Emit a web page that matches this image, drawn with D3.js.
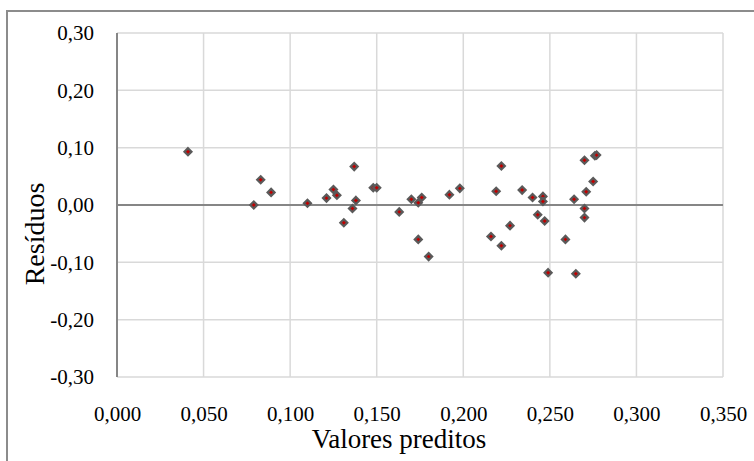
<!DOCTYPE html>
<html>
<head>
<meta charset="utf-8">
<script src="https://cdn.jsdelivr.net/npm/d3@7"></script>
<style>
  body { margin: 0; background: #fff; }
</style>
</head>
<body>
<div id="chart"></div>
<script>
// predicted values (x) and residuals (y)
var predicted = [0.041, 0.079, 0.083, 0.089, 0.110, 0.121, 0.125, 0.127, 0.131, 0.137, 0.136,
  0.138, 0.148, 0.150, 0.163, 0.170, 0.174, 0.176, 0.174, 0.180, 0.192, 0.198, 0.216,
  0.219, 0.222, 0.222, 0.227, 0.234, 0.240, 0.246, 0.246, 0.243, 0.247, 0.249, 0.259,
  0.264, 0.265, 0.270, 0.271, 0.270, 0.270, 0.275, 0.276, 0.277];
var residuals = [0.093, 0.000, 0.044, 0.022, 0.003, 0.012, 0.027, 0.017, -0.031, 0.067, -0.006,
  0.008, 0.030, 0.030, -0.012, 0.010, 0.004, 0.013, -0.060, -0.090, 0.018, 0.029, -0.055,
  0.024, 0.068, -0.071, -0.036, 0.026, 0.013, 0.015, 0.006, -0.017, -0.028, -0.118, -0.060,
  0.010, -0.120, 0.078, 0.023, -0.006, -0.022, 0.041, 0.086, 0.087];

var xTicks = [0, 0.05, 0.10, 0.15, 0.20, 0.25, 0.30, 0.35];
var yTicks = [-0.30, -0.20, -0.10, 0, 0.10, 0.20, 0.30];

var data = predicted.map(function(d, i) { return {x: d, y: residuals[i]}; });

var width = 754, height = 461;
var plot = {left: 117, right: 723, top: 33, bottom: 377};
var serif = "'Liberation Serif', 'Times New Roman', serif";

// comma decimals and a plain hyphen for negatives, like the original
var ptBr = d3.formatLocale({decimal: ",", thousands: ".", grouping: [3], currency: ["", ""], minus: "-"});

var svg = d3.select("#chart")
  .append("svg")
    .attr("width", width)
    .attr("height", height);

// outer chart border (runs off the right and bottom edges)
svg.append("rect")
  .attr("x", 7)
  .attr("y", 11)
  .attr("width", 800)
  .attr("height", 500)
  .attr("fill", "none")
  .attr("stroke", "#8c8c8c")
  .attr("stroke-width", 2);

var x = d3.scaleLinear()
  .domain([0, 0.35])
  .range([plot.left, plot.right]);

var y = d3.scaleLinear()
  .domain([-0.30, 0.30])
  .range([plot.bottom, plot.top]);

// gridlines
svg.append("g")
  .selectAll("line")
  .data(xTicks.slice(1))
  .enter()
  .append("line")
    .attr("x1", function(d) { return x(d); })
    .attr("x2", function(d) { return x(d); })
    .attr("y1", y(0.30))
    .attr("y2", y(-0.30))
    .attr("stroke", "#d9d9d9")
    .attr("stroke-width", 1.5);

svg.append("g")
  .selectAll("line")
  .data(yTicks.filter(function(d) { return d !== 0; }))
  .enter()
  .append("line")
    .attr("x1", x(0))
    .attr("x2", x(0.35))
    .attr("y1", function(d) { return y(d); })
    .attr("y2", function(d) { return y(d); })
    .attr("stroke", "#d9d9d9")
    .attr("stroke-width", 1.5);

// zero line and left axis line
svg.append("line")
  .attr("x1", x(0)).attr("x2", x(0.35))
  .attr("y1", y(0)).attr("y2", y(0))
  .attr("stroke", "#868686")
  .attr("stroke-width", 2);

svg.append("line")
  .attr("x1", x(0)).attr("x2", x(0))
  .attr("y1", y(0.30)).attr("y2", y(-0.30))
  .attr("stroke", "#868686")
  .attr("stroke-width", 2);

// axes (labels only)
svg.append("g")
  .attr("transform", "translate(0," + plot.bottom + ")")
  .call(d3.axisBottom(x).tickValues(xTicks).tickSize(0).tickPadding(29)
    .tickFormat(ptBr.format(".3f")));

svg.append("g")
  .attr("transform", "translate(" + plot.left + ",0)")
  .call(d3.axisLeft(y).tickValues(yTicks).tickSize(0).tickPadding(23)
    .tickFormat(ptBr.format(".2f")));

svg.selectAll(".domain").remove();
svg.selectAll(".tick text")
  .style("font-family", serif)
  .style("font-size", "21px")
  .style("fill", "#000");

// axis titles
svg.append("text")
  .attr("x", 399)
  .attr("y", 448)
  .attr("text-anchor", "middle")
  .style("font-family", serif)
  .style("font-size", "27px")
  .text("Valores preditos");

svg.append("text")
  .attr("transform", "translate(44,234) rotate(-90)")
  .attr("text-anchor", "middle")
  .style("font-family", serif)
  .style("font-size", "28px")
  .text("Resíduos");

// markers
var diamond = "M0,-3.5L3.5,0L0,3.5L-3.5,0Z";
svg.selectAll("path.pt")
  .data(data)
  .enter()
  .append("path")
    .attr("class", "pt")
    .attr("d", diamond)
    .attr("transform", function(d) { return "translate(" + x(d.x) + "," + y(d.y) + ")"; })
    .attr("fill", "#c00000")
    .attr("stroke", "#5a5a5a")
    .attr("stroke-width", 2.2);
</script>
</body>
</html>
